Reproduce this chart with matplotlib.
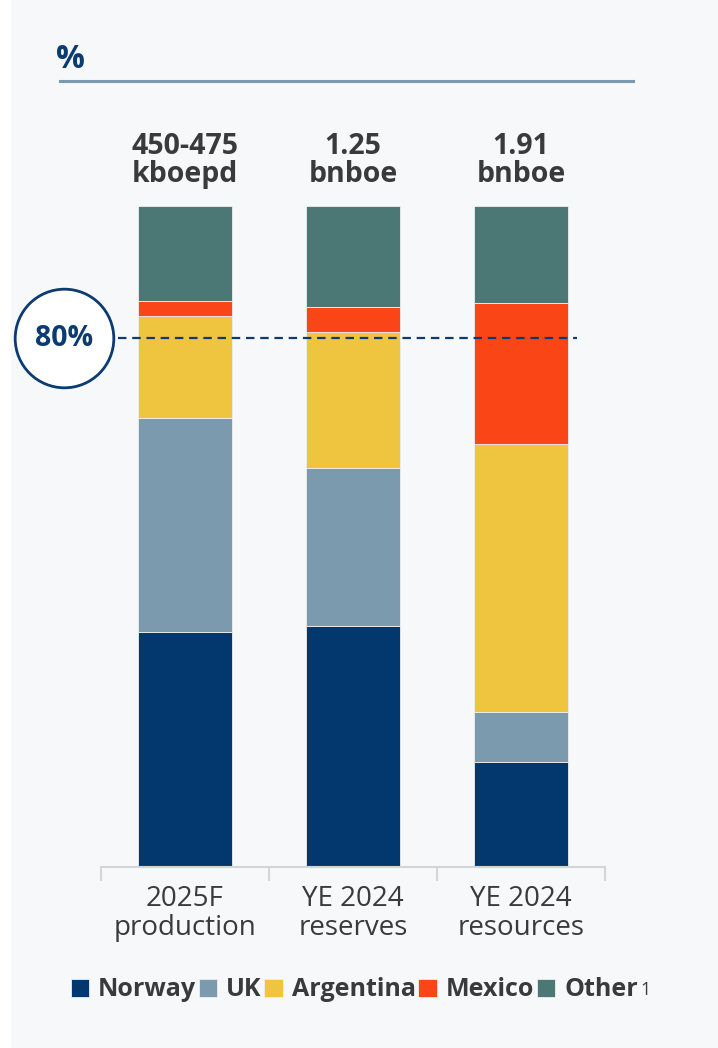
import numpy as np
import matplotlib.pyplot as plt
from matplotlib.patches import Rectangle

categories = ['2025F\nproduction', 'YE 2024\nreserves', 'YE 2024\nresources']
totals = ['450-475\nkboepd', '1.25\nbnboe', '1.91\nbnboe']
countries = ['Norway', 'UK', 'Argentina', 'Mexico', 'Other']
norway = [35.5, 36.5, 15.9]
uk = [32.5, 23.8, 7.6]
argentina = [15.4, 20.6, 40.5]
mexico = [2.3, 3.8, 21.3]
other = [14.3, 15.3, 14.7]
threshold = 80

colors = ['#02386E', '#7B9AAD', '#EFC43F', '#FA4616', '#4B7874']
navy = '#0B3B70'
dark = '#3A3A3A'
bg = '#F6F8FA'

plt.rcParams['font.family'] = ['Open Sans', 'DejaVu Sans']

figure = plt.figure(figsize=(7.18, 10.48), dpi=100, facecolor=bg)
figure.patches.append(Rectangle((0, 0), 11 / 718, 1, transform=figure.transFigure,
                                facecolor='white', edgecolor='none', zorder=-1))

axes = figure.add_axes([101 / 718, 1 - 867 / 1048, 504 / 718, 661 / 1048])
axes.set_facecolor(bg)

x = np.arange(len(categories))
bottom = np.zeros(len(categories))
handles = []
for name, values, color in zip(countries, [norway, uk, argentina, mexico, other], colors):
    bars = axes.bar(x, values, width=0.554, bottom=bottom, color=color,
                    edgecolor='#EDEFF2', linewidth=0.6, label=name)
    bottom += np.array(values)
    handles.append(bars)

axes.set_xlim(-0.5, 2.5)
axes.set_ylim(0, 100)
axes.set_yticks([])
for side in ['left', 'right', 'top']:
    axes.spines[side].set_visible(False)
axes.spines['bottom'].set_color('#D3D5D8')
axes.spines['bottom'].set_linewidth(1.5)
axes.set_xticks(x, categories, fontsize=20, color=dark, linespacing=1.05)
axes.tick_params(axis='x', which='major', length=0, pad=13)
axes.set_xticks([-0.5, 0.5, 1.5, 2.5], minor=True)
axes.tick_params(axis='x', which='minor', length=10, width=1.5, color='#D3D5D8')

for xi, label in zip(x, totals):
    axes.text(xi, 102.6, label, ha='center', va='bottom', fontsize=20.5,
              fontweight='bold', color=dark, linespacing=0.95, clip_on=False)

axes.plot([-0.399, 2.333], [threshold, threshold], linestyle=(0, (3.8, 2.6)),
          color=navy, linewidth=1.6, clip_on=False, zorder=5)
axes.plot([-0.72], [threshold], marker='o', markersize=71, markerfacecolor='white',
          markeredgecolor=navy, markeredgewidth=2, clip_on=False, zorder=6)
axes.text(-0.72, threshold, f'{threshold}%', ha='center', va='center', fontsize=20.5,
          fontweight='bold', color=navy, clip_on=False, zorder=7)

figure.text(56 / 718, 1 - 59 / 1048, '%', ha='left', va='center', fontsize=23,
            fontweight='bold', color=navy)
figure.add_artist(plt.Line2D([60 / 718, 633 / 718], [1 - 81 / 1048, 1 - 81 / 1048],
                             color='#7B9AB0', linewidth=2.2))

legend = figure.legend(handles=handles, labels=countries, loc='center left',
                       bbox_to_anchor=(58 / 718, 1 - 990 / 1048), ncol=5, frameon=False,
                       handlelength=0.75, handleheight=0.75, handletextpad=0.35,
                       columnspacing=0.1, borderpad=0, prop={'weight': 'bold', 'size': 18})
for text in legend.get_texts():
    text.set_color(dark)

figure.canvas.draw()
other_box = legend.get_texts()[-1].get_window_extent()
figure.text((other_box.x1 + 3) / 718, 1 - 990 / 1048, '1', ha='left', va='center',
            fontsize=13, color=dark)

figure.savefig('out.png', dpi=100, facecolor=bg)
